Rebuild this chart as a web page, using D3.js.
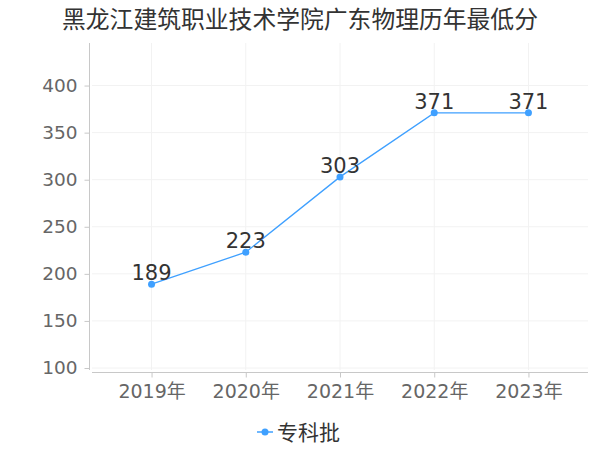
<!DOCTYPE html>
<html><head><meta charset="utf-8">
<script src="https://cdn.jsdelivr.net/npm/d3@7/dist/d3.min.js"></script>
<style>body{margin:0;background:#fff;}</style>
</head><body><svg id="c" width="600" height="450"></svg>
<script>
const title = "黑龙江建筑职业技术学院广东物理历年最低分";
const categories = ["2019年","2020年","2021年","2022年","2023年"];
const values = [189,223,303,371,371];
const yTicks = [100,150,200,250,300,350,400];
const seriesName = "专科批";
const color = "#3fa0ff";

const svg = d3.select("#c");
const font = '"DejaVu Sans","Noto Sans CJK SC",sans-serif';
const x = d3.scalePoint().domain(categories).range([92,588]).padding(0.632);
const y = d3.scaleLinear().domain([100, 445.2]).range([368, 43]);

// grid
svg.append("g").selectAll("line").data(yTicks).join("line")
  .attr("x1",92).attr("x2",588).attr("y1",d=>y(d)).attr("y2",d=>y(d))
  .attr("stroke","#f2f2f2").attr("stroke-width",1);
svg.append("g").selectAll("line").data(categories).join("line")
  .attr("x1",d=>x(d)).attr("x2",d=>x(d)).attr("y1",43).attr("y2",370)
  .attr("stroke","#f2f2f2").attr("stroke-width",1);

// y axis
const ya = svg.append("g").attr("transform","translate(89.5,0)")
  .call(d3.axisLeft(y).tickValues(yTicks).tickSize(5).tickPadding(7));
ya.select(".domain").attr("stroke","#c8c8c8").attr("d","M0,43V370");
ya.selectAll(".tick line").attr("stroke","#c8c8c8");
ya.selectAll("text").attr("fill","#666").style("font-size","18.5px").style("font-family",font);

// x axis
const xa = svg.append("g").attr("transform","translate(0,372.5)")
  .call(d3.axisBottom(x).tickSize(5).tickPadding(7));
xa.select(".domain").attr("stroke","#c8c8c8").attr("d","M92,0H588");
xa.selectAll(".tick line").attr("stroke","#c8c8c8");
xa.selectAll("text").attr("fill","#666").style("font-size","19px").style("font-family",font);

// line
const data = categories.map((c,i)=>({c, v: values[i]}));
svg.append("path").datum(data)
  .attr("fill","none").attr("stroke",color).attr("stroke-width",1.3)
  .attr("d", d3.line().x(d=>x(d.c)).y(d=>y(d.v)));
svg.append("g").selectAll("circle").data(data).join("circle")
  .attr("cx",d=>x(d.c)).attr("cy",d=>y(d.v)).attr("r",3.5).attr("fill",color);
svg.append("g").selectAll("text").data(data).join("text")
  .attr("x",d=>x(d.c)).attr("y",d=>y(d.v)-4)
  .attr("text-anchor","middle").attr("fill","#333")
  .style("font-size","21px").style("font-family",font)
  .text(d=>d.v);

// title
svg.append("text").attr("x",300).attr("y",28).attr("text-anchor","middle")
  .attr("fill","#333").style("font-size","23.8px").style("font-family",font).text(title);

// legend
const lg = svg.append("g");
lg.append("line").attr("x1",257).attr("x2",273).attr("y1",432).attr("y2",432).attr("stroke",color).attr("stroke-width",1.5);
lg.append("circle").attr("cx",265).attr("cy",432).attr("r",3.5).attr("fill",color);
lg.append("text").attr("x",277).attr("y",440).attr("fill","#333")
  .style("font-size","21px").style("font-family",font).text(seriesName);
</script></body></html>
